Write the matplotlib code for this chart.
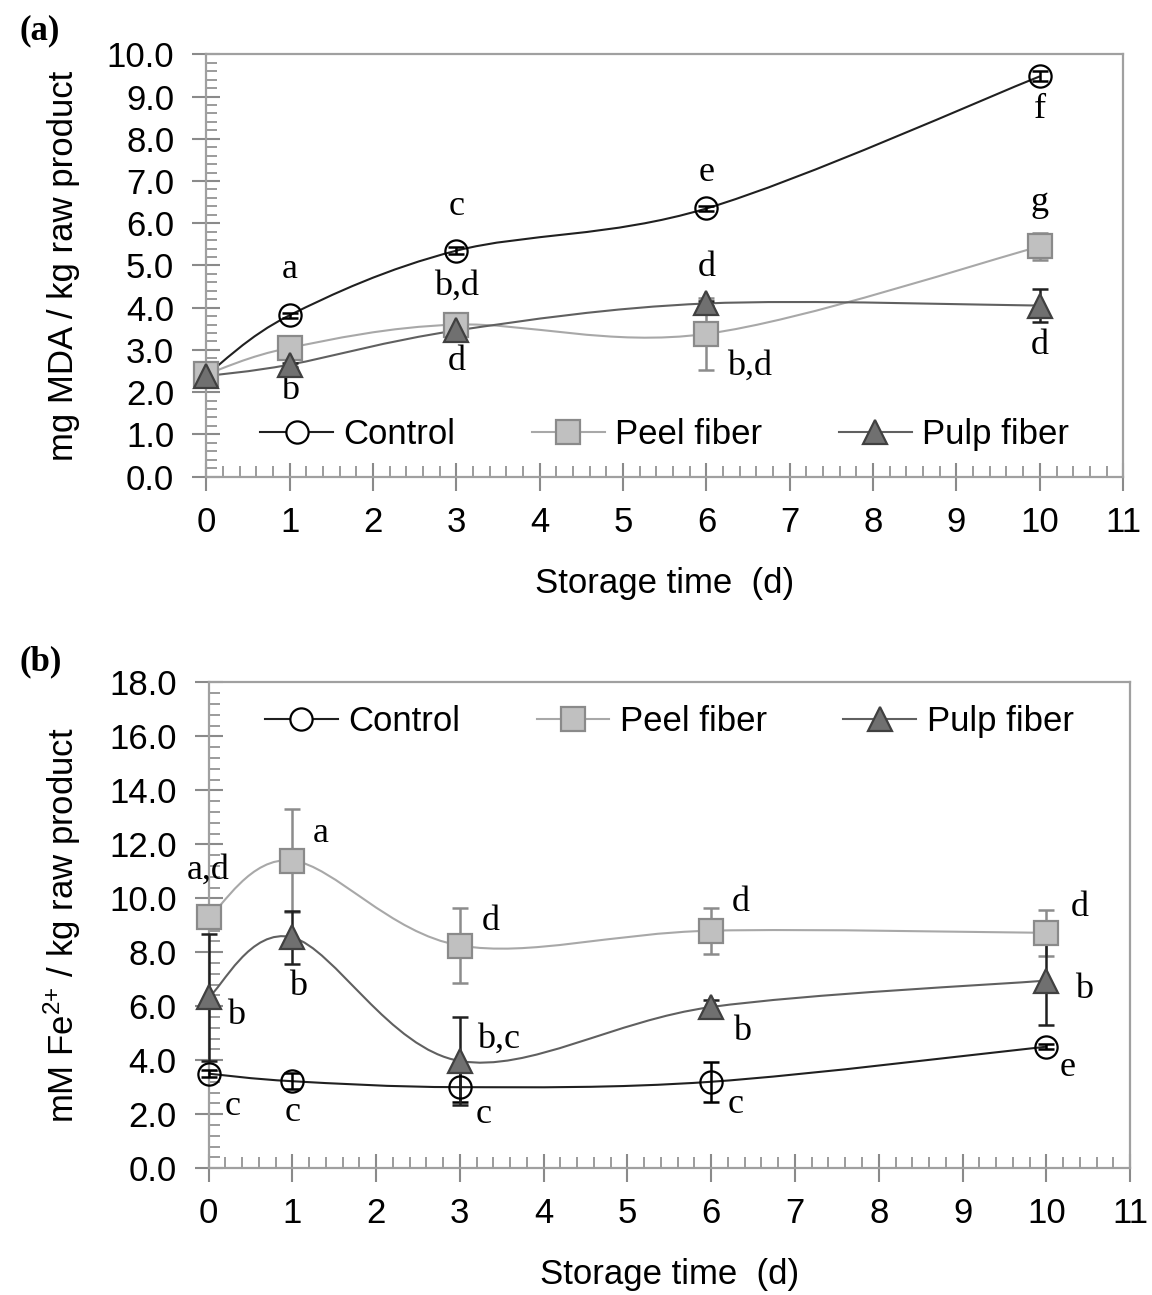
import numpy as np
import matplotlib
matplotlib.use("Agg")
import matplotlib.pyplot as plt
from matplotlib.path import Path
from matplotlib.patches import PathPatch
from matplotlib.lines import Line2D
from matplotlib.ticker import MultipleLocator

days = [0, 1, 3, 6, 10]

# (a) lipid oxidation, mg MDA / kg
mda_control = [2.40, 3.82, 5.35, 6.35, 9.48]
mda_control_err = [0.05, 0.06, 0.08, 0.06, 0.12]
mda_peel = [2.42, 3.05, 3.60, 3.38, 5.45]
mda_peel_err = [0.05, 0.08, 0.10, 0.85, 0.33]
mda_pulp = [2.38, 2.65, 3.46, 4.10, 4.05]
mda_pulp_err = [0.05, 0.05, 0.06, 0.05, 0.40]

# (b) ferrous ion, mM Fe2+ / kg
fe_control = [3.50, 3.22, 3.00, 3.20, 4.50]
fe_control_err = [0.12, 0.30, 0.55, 0.75, 0.10]
fe_peel = [9.30, 11.40, 8.25, 8.80, 8.72]
fe_peel_err = [0.10, 1.90, 1.40, 0.85, 0.85]
fe_pulp = [6.33, 8.55, 3.97, 5.97, 6.95]
fe_pulp_err = [2.35, 0.98, 1.62, 0.25, 1.65]

series_names = ["Control", "Peel fiber", "Pulp fiber"]

# significance letters: text, x, y
letters_a = [("a", 1, 4.9), ("b", 1, 2.05), ("c", 3, 6.4), ("b,d", 3, 4.5),
             ("d", 3, 2.72), ("e", 6, 7.2), ("d", 6, 4.95), ("b,d", 6.52, 2.62),
             ("f", 10, 8.7), ("g", 10, 6.5), ("d", 10, 3.1)]
letters_b = [("a,d", 0.0, 11.05), ("a", 1.34, 12.4), ("b", 0.33, 5.67),
             ("c", 0.29, 2.3), ("b", 1.07, 6.74), ("c", 1.0, 2.07),
             ("d", 3.37, 9.15), ("b,c", 3.46, 4.78), ("c", 3.28, 2.0),
             ("d", 6.35, 9.85), ("b", 6.37, 5.07), ("c", 6.29, 2.37),
             ("d", 10.4, 9.67), ("b", 10.45, 6.63), ("e", 10.26, 3.74)]

styles = [
    dict(marker="o", mfc="none", mec="black", ms=16, line="#202020", err="black"),
    dict(marker="s", mfc="#c0c0c0", mec="#8a8a8a", ms=17, line="#a8a8a8", err="#8c8c8c"),
    dict(marker="^", mfc="#707070", mec="#404040", ms=17, line="#606060", err="#202020"),
]

plt.rcParams["font.family"] = ["Liberation Sans", "DejaVu Sans"]
plt.rcParams["mathtext.default"] = "regular"


def smooth_path(x, y):
    # Catmull-Rom style Bezier through the points (spreadsheet "smoothed line")
    pts = np.column_stack([x, y]).astype(float)
    n = len(pts)
    verts = [pts[0]]
    codes = [Path.MOVETO]
    for i in range(n - 1):
        p0 = pts[max(i - 1, 0)]
        p1 = pts[i]
        p2 = pts[i + 1]
        p3 = pts[min(i + 2, n - 1)]
        verts += [p1 + (p2 - p0) / 6, p2 - (p3 - p1) / 6, p2]
        codes += [Path.CURVE4] * 3
    return Path(verts, codes)


def draw_panel(ax, data, errs, ymax, ymajor, yminor, ylabel, letters, leg_y):
    for vals, err, st in zip(data, errs, styles):
        ax.errorbar(days, vals, yerr=err, fmt="none", ecolor=st["err"],
                    elinewidth=1.8, capsize=6, capthick=1.8, zorder=4,
                    clip_on=False)
        ax.add_patch(PathPatch(smooth_path(days, vals), fc="none",
                               ec=st["line"], lw=1.5, zorder=3, clip_on=False))
        ax.plot(days, vals, ls="none", marker=st["marker"], ms=st["ms"],
                mfc=st["mfc"], mec=st["mec"], mew=1.6, zorder=5, clip_on=False)
    for txt, x, y in letters:
        ax.text(x, y, txt, ha="center", va="center", fontsize=26,
                family="Liberation Serif")

    ax.set_xlim(0, 11)
    ax.set_ylim(0, ymax)
    ax.xaxis.set_major_locator(MultipleLocator(1))
    ax.xaxis.set_minor_locator(MultipleLocator(0.2))
    ax.yaxis.set_major_locator(MultipleLocator(ymajor))
    ax.yaxis.set_minor_locator(MultipleLocator(yminor))
    ax.yaxis.set_major_formatter(lambda v, p: f"{v:.1f}")
    ax.tick_params(which="major", direction="inout", length=20, width=1.5,
                   color="#8a8a8a", labelsize=25)
    ax.tick_params(axis="y", which="major", pad=13)
    ax.tick_params(axis="x", which="major", pad=11)
    ax.tick_params(which="minor", direction="in", length=8, width=1.2,
                   color="#8a8a8a")
    for s in ax.spines.values():
        s.set_color("#a0a0a0")
        s.set_linewidth(1.6)
    ax.set_xlabel("Storage time  (d)", fontsize=25, labelpad=20)
    ax.set_ylabel(ylabel, fontsize=25, labelpad=19)

    handles = [Line2D([], [], color=st["line"], lw=1.5, marker=st["marker"],
                      ms=st["ms"], mfc="white" if st["mfc"] == "none" else st["mfc"],
                      mec=st["mec"], mew=1.6) for st in styles]
    ax.legend(handles, series_names, loc="center", bbox_to_anchor=(0.5, leg_y),
              ncol=3, frameon=False, fontsize=25, handlelength=2.1,
              handletextpad=0.3, columnspacing=2.2)


fig = plt.figure(figsize=(11.52, 12.95), dpi=100)
ax_a = fig.add_axes([0.179, 0.632, 0.796, 0.326])
ax_b = fig.add_axes([0.181, 0.098, 0.800, 0.375])

draw_panel(ax_a, [mda_control, mda_peel, mda_pulp],
           [mda_control_err, mda_peel_err, mda_pulp_err],
           10, 1.0, 0.2, "mg MDA / kg raw product", letters_a, 0.1)
draw_panel(ax_b, [fe_control, fe_peel, fe_pulp],
           [fe_control_err, fe_peel_err, fe_pulp_err],
           18, 2.0, 0.4, "mM Fe$^{2{+}}$ / kg raw product", letters_b, 0.92)

fig.text(0.017, 0.976, "(a)", fontsize=25, fontweight="bold",
         family="Liberation Serif", va="center")
fig.text(0.017, 0.489, "(b)", fontsize=25, fontweight="bold",
         family="Liberation Serif", va="center")

fig.savefig("out.png", dpi=100)
